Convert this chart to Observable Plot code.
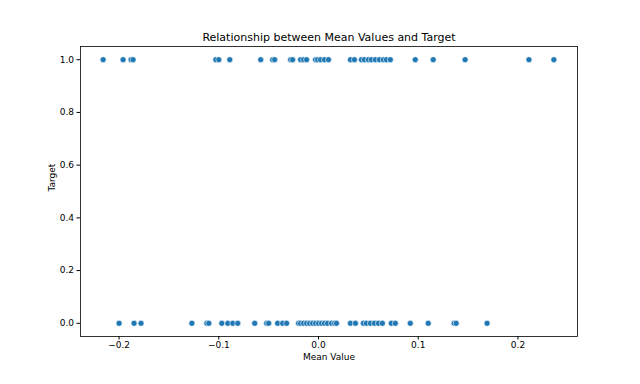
<!DOCTYPE html>
<html>
<head>
<meta charset="utf-8">
<script src="https://cdn.jsdelivr.net/npm/d3@7"></script>
<script src="https://cdn.jsdelivr.net/npm/@observablehq/plot@0.6"></script>
<style>
  html, body { margin: 0; padding: 0; background: #fff; }
  svg { display: block; }
</style>
</head>
<body>
<div id="chart"></div>
<script>
const title = "Relationship between Mean Values and Target";
const xLabel = "Mean Value";
const yLabel = "Target";
const xTicks = [-0.2, -0.1, 0.0, 0.1, 0.2];
const yTicks = [0.0, 0.2, 0.4, 0.6, 0.8, 1.0];

// Mean values for rows with Target = 1
const meanTarget1 = [-0.216, -0.196, -0.188, -0.186, -0.103, -0.100, -0.089, -0.058, -0.046, -0.044,
  -0.028, -0.026, -0.018, -0.015, -0.012, -0.003, -0.001, 0.002, 0.006, 0.010,
  0.032, 0.036, 0.043, 0.046, 0.050, 0.053, 0.057, 0.061, 0.065, 0.068, 0.072,
  0.097, 0.115, 0.147, 0.211, 0.236];
// Mean values for rows with Target = 0
const meanTarget0 = [-0.200, -0.185, -0.178, -0.127, -0.112, -0.110, -0.097, -0.091, -0.086, -0.081,
  -0.064, -0.052, -0.050, -0.041, -0.036, -0.032, -0.020, -0.018, -0.015, -0.012,
  -0.009, -0.006, -0.003, 0.000, 0.003, 0.006, 0.009, 0.013, 0.016, 0.018,
  0.032, 0.037, 0.045, 0.048, 0.052, 0.056, 0.060, 0.064, 0.073, 0.077,
  0.092, 0.110, 0.136, 0.138, 0.169];

const data = [
  ...meanTarget1.map(v => ({mean: v, target: 1})),
  ...meanTarget0.map(v => ({mean: v, target: 0}))
];

const font = "'DejaVu Sans', sans-serif";

const chart = Plot.plot({
  width: 640,
  height: 384,
  marginLeft: 80,
  marginRight: 63,
  marginTop: 46,
  marginBottom: 48,
  style: {fontFamily: font, fontSize: "9px", color: "#000", background: "#fff"},
  x: {domain: [-0.2387, 0.2597], ticks: xTicks, tickFormat: d3.format(".1f")},
  y: {domain: [-0.05, 1.05], ticks: yTicks, tickFormat: d3.format(".1f")},
  marks: [
    Plot.axisX({ticks: xTicks, tickFormat: d => d3.format(".1f")(d).replace("-", "\u2212"), tickSize: 3.5, tickPadding: 2, label: null, fontSize: 9}),
    Plot.axisY({ticks: yTicks, tickFormat: d3.format(".1f"), tickSize: 3.5, tickPadding: 3, label: null, fontSize: 9}),
    Plot.frame({stroke: "#000", strokeWidth: 0.8}),
    Plot.dot(data, {x: "mean", y: "target", r: 3, fill: "#1f77b4", stroke: "#fff", strokeWidth: 0.6}),
    Plot.text([title], {frameAnchor: "top", lineAnchor: "middle", dy: -9, fontSize: 11, fill: "#000"}),
    Plot.text([xLabel], {frameAnchor: "bottom", lineAnchor: "middle", dy: 21, fontSize: 9, fill: "#000"}),
    Plot.text([yLabel], {frameAnchor: "left", dx: -28, rotate: -90, fontSize: 9, fill: "#000"})
  ]
});
document.getElementById("chart").appendChild(chart);
</script>
</body>
</html>
